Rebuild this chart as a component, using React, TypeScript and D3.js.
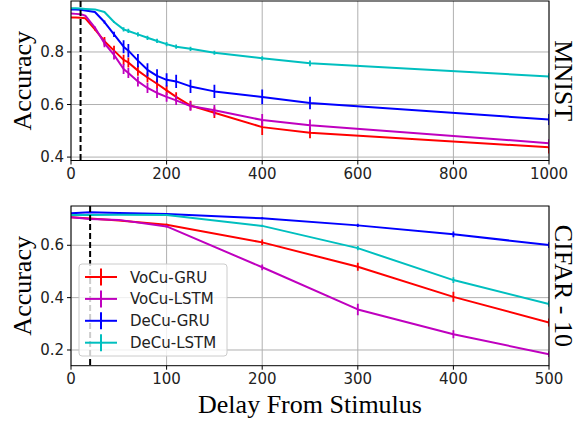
import React from 'react';
import * as d3 from 'd3';

// series names / colours (legend order)
const seriesNames = ['VoCu-GRU', 'VoCu-LSTM', 'DeCu-GRU', 'DeCu-LSTM'];
const seriesColors = ['#ff0000', '#bf00bf', '#0000ff', '#00bfbf'];

// MNIST
const mnistX = [0, 10, 20, 30, 50, 70, 90, 110, 120, 140, 160, 180, 200, 220, 250, 300, 400, 500, 1000];
const mnistVoGru = [0.931, 0.931, 0.93, 0.928, 0.886, 0.841, 0.805, 0.77, 0.76, 0.729, 0.703, 0.679, 0.654, 0.629, 0.596, 0.569, 0.514, 0.493, 0.437];
const mnistVoLstm = [0.946, 0.945, 0.944, 0.938, 0.893, 0.833, 0.789, 0.735, 0.72, 0.688, 0.663, 0.644, 0.629, 0.616, 0.594, 0.578, 0.541, 0.521, 0.453];
const mnistDeGru = [0.962, 0.962, 0.961, 0.958, 0.952, 0.914, 0.867, 0.82, 0.805, 0.767, 0.732, 0.709, 0.694, 0.688, 0.669, 0.65, 0.629, 0.606, 0.543];
const mnistDeLstm = [0.966, 0.966, 0.965, 0.964, 0.962, 0.952, 0.914, 0.886, 0.88, 0.867, 0.854, 0.842, 0.83, 0.82, 0.812, 0.797, 0.776, 0.757, 0.707];
const mnistErrVoGru = [0, 0, 0, 0, 0.004, 0.016, 0.019, 0.019, 0.019, 0.019, 0.019, 0.019, 0.018, 0.018, 0.018, 0.02, 0.03, 0.021, 0.023];
const mnistErrVoLstm = [0, 0, 0, 0, 0.004, 0.015, 0.018, 0.019, 0.019, 0.019, 0.019, 0.019, 0.018, 0.018, 0.018, 0.02, 0.023, 0.022, 0.015];
const mnistErrDeGru = [0, 0, 0, 0, 0, 0.006, 0.01, 0.025, 0.025, 0.025, 0.025, 0.025, 0.025, 0.025, 0.025, 0.025, 0.028, 0.024, 0.021];
const mnistErrDeLstm = [0, 0, 0, 0, 0, 0, 0.004, 0.008, 0.008, 0.008, 0.008, 0.008, 0.008, 0.008, 0.008, 0.008, 0.008, 0.011, 0.012];

// CIFAR-10
const cifarX = [0, 20, 50, 100, 200, 300, 400, 500];
const cifarVoGru = [0.707, 0.702, 0.695, 0.678, 0.611, 0.518, 0.403, 0.305];
const cifarVoLstm = [0.707, 0.7, 0.697, 0.672, 0.516, 0.355, 0.26, 0.184];
const cifarDeGru = [0.722, 0.726, 0.723, 0.719, 0.703, 0.676, 0.642, 0.601];
const cifarDeLstm = [0.716, 0.716, 0.717, 0.716, 0.674, 0.589, 0.467, 0.376];
const cifarErrVoGru = [0, 0, 0, 0.004, 0.011, 0.015, 0.019, 0.015];
const cifarErrVoLstm = [0, 0, 0, 0.004, 0.011, 0.022, 0.015, 0.011];
const cifarErrDeGru = [0, 0, 0, 0, 0.004, 0.006, 0.011, 0.011];
const cifarErrDeLstm = [0, 0, 0, 0, 0.004, 0.008, 0.011, 0.011];

const mnistXTicks = [0, 200, 400, 600, 800, 1000];
const mnistYTicks = [0.4, 0.6, 0.8];
const cifarXTicks = [0, 100, 200, 300, 400, 500];
const cifarYTicks = [0.2, 0.4, 0.6];

const stimulusDelay = 20;

const W = 577;
const H = 423;
const left = 71;
const right = 549;
const tickFont = 'DejaVu Sans, sans-serif';
const serif = 'Liberation Serif, Times New Roman, serif';

type Series = { name: string; color: string; y: number[]; err: number[] };

function Panel({ top, bottom, xDomain, yDomain, xs, series, xTicks, yTicks, title, legend }: {
  top: number; bottom: number; xDomain: [number, number]; yDomain: [number, number];
  xs: number[]; series: Series[]; xTicks: number[]; yTicks: number[]; title: string; legend?: boolean;
}) {
  const x = d3.scaleLinear().domain(xDomain).range([left, right]);
  const y = d3.scaleLinear().domain(yDomain).range([bottom, top]);
  const line = d3.line<number>().x((_, i) => x(xs[i])).y((d) => y(d));
  const clipId = `clip-${title.replace(/\W/g, '')}`;

  return (
    <g>
      <defs>
        <clipPath id={clipId}>
          <rect x={left} y={top} width={right - left} height={bottom - top} />
        </clipPath>
      </defs>
      {/* grid */}
      {xTicks.map((t) => (
        <line key={'gx' + t} x1={x(t)} x2={x(t)} y1={top} y2={bottom} stroke="#b0b0b0" strokeWidth={1} />
      ))}
      {yTicks.map((t) => (
        <line key={'gy' + t} x1={left} x2={right} y1={y(t)} y2={y(t)} stroke="#b0b0b0" strokeWidth={1} />
      ))}
      <g clipPath={`url(#${clipId})`}>
        {series.map((s) => (
          <g key={s.name}>
            <path d={line(s.y) || ''} fill="none" stroke={s.color} strokeWidth={2} strokeLinejoin="round" />
            {s.y.map((v, i) =>
              s.err[i] > 0 ? (
                <line key={i} x1={x(xs[i])} x2={x(xs[i])} y1={y(v - s.err[i])} y2={y(v + s.err[i])}
                  stroke={s.color} strokeWidth={1.8} />
              ) : null
            )}
          </g>
        ))}
        <line x1={x(stimulusDelay)} x2={x(stimulusDelay)} y1={top} y2={bottom}
          stroke="#000" strokeWidth={2} strokeDasharray="6,3" />
      </g>
      {/* axes frame */}
      <rect x={left} y={top} width={right - left} height={bottom - top} fill="none" stroke="#000" strokeWidth={1} />
      {xTicks.map((t) => (
        <g key={'xt' + t}>
          <line x1={x(t)} x2={x(t)} y1={bottom} y2={bottom + 4} stroke="#000" />
          <text x={x(t)} y={bottom + 18} textAnchor="middle" fontFamily={tickFont} fontSize={15} fill="#222">{t}</text>
        </g>
      ))}
      {yTicks.map((t) => (
        <g key={'yt' + t}>
          <line x1={left - 4} x2={left} y1={y(t)} y2={y(t)} stroke="#000" />
          <text x={left - 7} y={y(t) + 5} textAnchor="end" fontFamily={tickFont} fontSize={15} fill="#222">{t.toFixed(1)}</text>
        </g>
      ))}
      <text transform={`translate(22,${(top + bottom) / 2}) rotate(-90)`} textAnchor="middle"
        fontFamily={serif} fontSize={26} fill="#000" dominantBaseline="central">Accuracy</text>
      <text transform={`translate(563,${(top + bottom) / 2}) rotate(90)`} textAnchor="middle"
        fontFamily={serif} fontSize={26} fill="#000" dominantBaseline="central">{title}</text>
      {legend && (
        <g>
          <rect x={79} y={264} width={148} height={92} rx={3} fill="#fff" fillOpacity={0.8} stroke="#cccccc" />
          {series.map((s, i) => {
            const ly = 277 + i * 21.9;
            return (
              <g key={'lg' + s.name}>
                <line x1={85} x2={117} y1={ly} y2={ly} stroke={s.color} strokeWidth={2} />
                <line x1={101} x2={101} y1={ly - 8.5} y2={ly + 8.5} stroke={s.color} strokeWidth={2} />
                <text x={130} y={ly + 5.5} fontFamily={tickFont} fontSize={15} fill="#222">{s.name}</text>
              </g>
            );
          })}
        </g>
      )}
    </g>
  );
}

export default function App() {
  const mnistSeries: Series[] = [
    { name: seriesNames[0], color: seriesColors[0], y: mnistVoGru, err: mnistErrVoGru },
    { name: seriesNames[1], color: seriesColors[1], y: mnistVoLstm, err: mnistErrVoLstm },
    { name: seriesNames[2], color: seriesColors[2], y: mnistDeGru, err: mnistErrDeGru },
    { name: seriesNames[3], color: seriesColors[3], y: mnistDeLstm, err: mnistErrDeLstm },
  ];
  const cifarSeries: Series[] = [
    { name: seriesNames[0], color: seriesColors[0], y: cifarVoGru, err: cifarErrVoGru },
    { name: seriesNames[1], color: seriesColors[1], y: cifarVoLstm, err: cifarErrVoLstm },
    { name: seriesNames[2], color: seriesColors[2], y: cifarDeGru, err: cifarErrDeGru },
    { name: seriesNames[3], color: seriesColors[3], y: cifarDeLstm, err: cifarErrDeLstm },
  ];

  return (
    <div style={{ position: 'absolute', left: 0, top: 0 }}>
      <svg width={W} height={H} style={{ display: 'block', background: '#fff' }}>
        <Panel top={1} bottom={160.5} xDomain={[0, 1000]} yDomain={[0.387, 0.994]} xs={mnistX}
          series={mnistSeries} xTicks={mnistXTicks} yTicks={mnistYTicks} title="MNIST" />
        <Panel top={206} bottom={365.7} xDomain={[0, 500]} yDomain={[0.14, 0.75]} xs={cifarX}
          series={cifarSeries} xTicks={cifarXTicks} yTicks={cifarYTicks} title="CIFAR - 10" legend />
        <text x={(left + right) / 2} y={413} textAnchor="middle" fontFamily={serif} fontSize={26} fill="#000">
          Delay From Stimulus
        </text>
      </svg>
    </div>
  );
}
